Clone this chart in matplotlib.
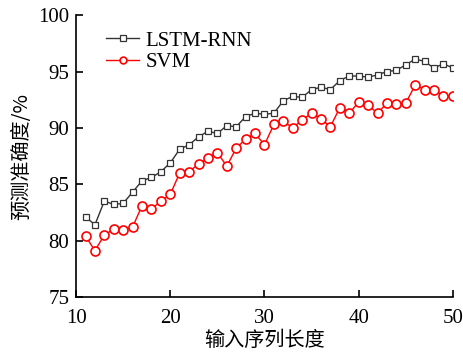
import matplotlib
matplotlib.use('Agg')
import matplotlib.pyplot as plt

# Data
seq_len = list(range(11, 51))
lstm_rnn = [82.1, 81.4, 83.5, 83.2, 83.3, 84.3, 85.3, 85.6, 86.1, 86.9,
            88.1, 88.5, 89.2, 89.7, 89.5, 90.2, 90.1, 91.0, 91.3, 91.2,
            91.3, 92.4, 92.8, 92.7, 93.4, 93.6, 93.4, 94.2, 94.6, 94.6,
            94.5, 94.7, 95.0, 95.1, 95.6, 96.1, 95.9, 95.3, 95.7, 95.3]
svm = [80.4, 79.1, 80.5, 81.0, 80.9, 81.2, 83.1, 82.8, 83.5, 84.1,
       86.0, 86.1, 86.8, 87.3, 87.8, 86.6, 88.2, 89.0, 89.5, 88.5,
       90.3, 90.6, 90.0, 90.7, 91.3, 90.8, 90.1, 91.8, 91.3, 92.3,
       92.0, 91.3, 92.2, 92.1, 92.2, 93.8, 93.4, 93.4, 92.8, 92.8]

plt.rcParams['font.family'] = ['Liberation Serif', 'Noto Sans CJK SC']
plt.rcParams['font.size'] = 15

fig = plt.figure(figsize=(4.64, 3.53), dpi=100)
ax = fig.add_axes([0.164, 0.159, 0.812, 0.798])

ax.plot(seq_len, lstm_rnn, color='#333333', lw=1.0, marker='s', ms=5,
        mfc='white', mec='#333333', mew=0.9, label='LSTM-RNN')
ax.plot(seq_len, svm, color='#ff0000', lw=1.0, marker='o', ms=6.5,
        mfc='white', mec='#ff0000', mew=1.2, label='SVM')

ax.set_xlim(10, 50)
ax.set_ylim(75, 100)
ax.set_xticks([10, 20, 30, 40, 50])
ax.set_yticks([75, 80, 85, 90, 95, 100])
for s in ['top', 'right']:
    ax.spines[s].set_visible(False)
for s in ['left', 'bottom']:
    ax.spines[s].set_linewidth(1.2)
ax.tick_params(direction='in', length=5, width=1.2, labelsize=15)
ax.tick_params(axis='y', pad=5)
ax.tick_params(axis='x', pad=9)

ax.set_xlabel('输入序列长度', fontsize=14.5, family=['Noto Sans CJK SC'], labelpad=1)
ax.set_ylabel('预测准确度/%', fontsize=14.5, family=['Noto Sans CJK SC'], labelpad=4)

ax.legend(loc='upper left', bbox_to_anchor=(0.03, 1.01), frameon=False,
          handlelength=1.6, handletextpad=0.3, labelspacing=0.1,
          markerscale=0.75, fontsize=15)

plt.savefig('out.png', dpi=100)
